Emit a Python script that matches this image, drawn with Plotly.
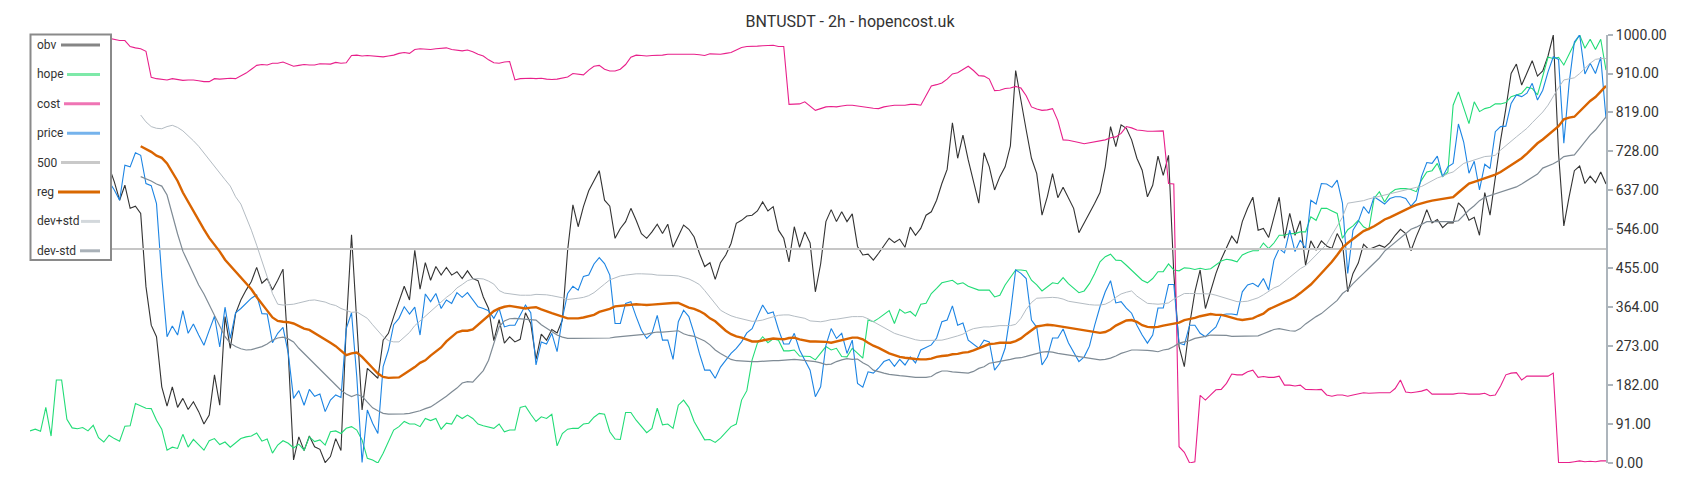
import plotly.graph_objects as go

# ---------------- data ----------------
title_text = "BNTUSDT - 2h - hopencost.uk"
x_index = list(range(300))

obv = [
720, 735, 700, 745, 715, 690, 730, 705, 680, 710,
690, 700, 675, 705, 680, 692, 657, 614, 649, 595,
600, 583, 412, 322, 295, 178, 133, 178, 130, 151,
125, 143, 120, 91, 112, 206, 135, 342, 268, 349,
381, 404, 424, 457, 420, 431, 404, 427, 453, 256,
7, 61, 29, 63, 38, 32, 1, 15, 57, 29,
318, 533, 318, 124, 221, 210, 198, 287, 303, 342,
377, 413, 381, 497, 406, 468, 427, 459, 439, 457,
439, 447, 431, 449, 431, 426, 388, 361, 286, 335,
280, 295, 283, 289, 351, 326, 242, 301, 287, 312,
304, 334, 497, 603, 552, 599, 636, 659, 683, 614,
600, 525, 548, 564, 595, 567, 536, 525, 540, 558,
536, 558, 504, 530, 556, 546, 528, 490, 459, 468,
429, 468, 486, 513, 560, 567, 577, 579, 589, 610,
589, 599, 544, 525, 470, 552, 504, 540, 514, 400,
465, 564, 592, 564, 587, 564, 582, 506, 486, 488,
474, 490, 509, 525, 515, 523, 504, 551, 532, 548,
579, 587, 614, 653, 686, 795, 712, 766, 708, 657,
607, 725, 692, 638, 669, 692, 741, 917, 844, 778,
712, 676, 579, 622, 676, 620, 644, 618, 595, 538,
560, 582, 607, 632, 692, 786, 739, 790, 782, 755,
712, 684, 622, 649, 717, 672, 719, 443, 272, 225,
323, 400, 451, 361, 404, 443, 476, 501, 530, 513,
564, 595, 621, 544, 548, 527, 572, 621, 525, 583,
532, 566, 462, 519, 497, 519, 507, 501, 536, 513,
400, 443, 467, 511, 499, 504, 509, 504, 515, 532,
546, 536, 496, 529, 558, 592, 561, 569, 550, 561,
561, 608, 595, 567, 574, 532, 632, 579, 669, 754,
828, 910, 932, 883, 911, 940, 904, 916, 951, 1000,
723, 554, 622, 683, 694, 653, 670, 655, 680, 652,
]

hope = [
75, 79, 74, 130, 63, 194, 194, 102, 82, 80,
83, 75, 88, 59, 49, 65, 57, 51, 86, 87,
139, 134, 128, 127, 100, 79, 30, 37, 34, 67,
37, 55, 43, 30, 52, 57, 43, 49, 37, 48,
57, 61, 63, 70, 51, 56, 23, 42, 52, 46,
35, 44, 30, 61, 50, 54, 42, 73, 75, 69,
81, 85, 77, 54, 11, 7, 0, 23, 50, 77,
85, 97, 91, 91, 85, 104, 99, 104, 79, 93,
91, 112, 104, 112, 104, 91, 87, 84, 81, 91,
73, 77, 77, 130, 133, 114, 97, 108, 104, 114,
40, 69, 79, 81, 81, 91, 93, 107, 116, 114,
73, 56, 55, 118, 118, 100, 85, 71, 81, 128,
89, 91, 81, 135, 147, 130, 97, 77, 54, 55,
48, 58, 71, 85, 91, 147, 169, 241, 280, 295,
281, 290, 287, 262, 262, 264, 250, 250, 249, 241,
256, 272, 264, 268, 249,
248, 268, 256, 245, 334, 330, 338, 348, 356, 326,
359, 350, 354, 343, 371, 373, 396, 408, 421, 424,
427, 418, 421, 413, 408, 404, 404, 404, 388, 392,
416, 435, 451, 451, 449, 427, 416, 402, 412, 421,
419, 433, 419, 408, 398, 402, 419, 443, 470, 482,
488, 474, 473, 462, 451, 439, 427, 421, 431, 447,
447, 465, 451, 449, 456, 455, 452, 455,
452, 454, 462, 472, 476, 474, 470, 486, 492, 496,
496, 514, 501, 514, 532, 532, 536, 536, 540, 540,
575, 567, 595, 595, 589, 583, 525, 545, 554, 567,
552, 545, 618, 634, 610, 630, 639, 641, 641, 639,
634, 661, 680, 683, 700, 669, 680, 836, 867, 832,
793, 844, 821, 828, 831, 839, 839, 842, 856, 860,
864, 878, 875, 860, 904, 948, 945, 948, 930, 956,
980, 1000, 969, 990, 966, 990, 918,
]

cost = [
1000, 998, 997, 999, 998, 996, 997, 995, 996, 994,
995, 993, 994, 992, 995, 992, 990, 987, 987, 973,
970, 968, 962, 901, 898, 896, 895, 898, 896, 894,
895, 895, 893, 891, 891, 898, 897, 898, 899, 898,
904, 911, 920, 929, 931, 930, 934, 934, 937, 932,
927, 929, 931, 930, 930, 933, 933, 932, 936, 934,
935, 952, 953, 951, 952, 951, 950, 949, 951, 953,
957, 959, 957, 966, 968, 967, 966, 968, 969, 970,
966, 964, 963, 965, 961, 955, 951, 942, 935, 934,
937, 938, 895, 898, 899, 899, 898, 899, 897, 896,
897, 899, 902, 910, 909, 907, 918, 927, 929, 920,
916, 916, 920, 931, 948, 953, 952, 951, 952, 952,
953, 955, 955, 955, 955, 956, 955, 954, 952, 956,
956, 955, 957, 959, 965, 971, 973, 973, 974, 975,
976, 976, 973, 973, 838, 838, 839, 844, 833, 824,
828, 832, 833, 832, 834, 836, 836, 834, 833, 831,
829, 828, 832, 834, 836, 836, 836, 838, 838, 836,
858, 881, 884, 888, 897, 909, 912, 920, 927, 917,
905, 904, 897, 870, 871, 875, 876, 880, 876, 858,
832, 827, 824, 825, 828, 800, 755, 754, 752, 749,
746, 748, 750, 752, 755, 760, 762, 770, 786, 783,
778, 777, 775, 775, 776, 776, 653, 652, 38, 25,
0, 3, 158, 147, 159, 171, 172, 186, 208, 206,
206, 213, 217, 200, 202, 200, 200, 203, 182, 182,
180, 182, 172, 171, 171, 172, 159, 156, 159, 159,
156, 159, 161, 164, 163, 164, 164, 164, 164, 174,
194, 166, 164, 166, 168, 172, 161, 161, 161, 161,
161, 163, 163, 161, 161, 161, 163, 157, 159, 180,
206, 210, 211, 194, 203, 203, 203, 203, 203, 210,
1, 1, 1, 3, 5, 3, 4, 3, 5, 5,
]

price = [
690, 700, 680, 710, 690, 675, 700, 685, 660, 680,
670, 690, 665, 650, 660, 657, 638, 614, 696, 692,
725, 719, 653, 648, 606, 435, 295, 320, 299, 356,
303, 325, 299, 275, 310, 343, 271, 364, 291, 351,
361, 373, 385, 393, 349, 348, 281, 303, 317, 256,
151, 169, 135, 172, 156, 161, 120, 147, 159, 153,
314, 351, 201, 1, 124, 93, 69, 225, 264, 323,
338, 365, 348, 364, 299, 395, 377, 396, 361, 381,
373, 398, 387, 398, 381, 365, 361, 356, 338, 361,
318, 322, 322, 345, 369, 351, 229, 283, 278, 303,
260, 338, 396, 413, 404, 436, 439, 465, 480, 466,
439, 326, 326, 373, 377, 342, 310, 291, 303, 345,
287, 287, 242, 330, 357, 342, 303, 256, 217, 217,
198, 224, 241, 256, 268, 283, 304, 314, 342, 369,
349, 353, 312, 278, 278, 303, 264, 241, 217, 155,
178, 275, 314, 291, 303, 256,
287, 186, 177, 213,
210, 222, 237, 242, 226, 242, 229, 248, 234, 264,
270, 276, 292, 330, 334, 367, 322, 327, 287, 278,
268, 287, 283, 217, 233, 268, 350, 451, 443, 431,
334, 317, 229, 248, 292, 292, 313, 281, 260, 237,
248, 273, 322, 365, 400, 426, 374, 377, 362, 350,
322, 299, 280, 299, 362, 362, 417, 417, 280, 276,
322, 322,
303, 295, 307, 318, 346, 348, 348, 346, 400, 416,
420, 412, 431, 404, 474, 501, 491, 544, 494, 521,
501, 614, 605, 653, 652, 644, 661, 607, 443, 544,
564, 599, 583, 622, 614, 605, 618, 622, 622, 618,
600, 614, 669, 702, 700, 717, 669, 692, 700, 792,
750, 677, 705, 638, 698, 688, 774, 786, 787, 840,
860, 856, 864, 887, 848, 871, 914, 949, 943, 747,
887, 984, 1000, 909, 934, 910, 948, 805,
]

level_500 = [500] * 300

reg = [None] * 21 + [
740, 734, 727, 718, 713, 700, 679, 659, 632,
610, 587, 566, 546, 526, 510, 494, 475, 461, 447,
434, 420, 406, 388, 373, 356, 340, 332, 330, 329,
326, 320, 314, 311, 304, 297, 289, 281, 273, 262,
252, 256, 258, 248, 234, 222, 209, 201, 199, 199,
200, 208, 215, 224, 234, 240, 251, 260, 270, 284,
294, 305, 309, 309, 312, 323, 333, 344, 355, 361,
365, 367, 365, 363, 361, 363, 364, 359, 354, 350,
346, 342, 338, 338, 338, 340, 343, 346, 353, 357,
360, 366, 367, 369, 370, 371, 370, 369, 370, 371,
373, 374, 374, 374, 368, 363, 360, 355, 348, 338,
331, 319, 309, 301, 296, 293, 288, 284, 284, 286,
289, 291, 290, 289, 292, 293, 289, 287, 284, 284,
284, 283, 281, 284, 288, 290,
293, 293, 289, 281, 274, 269, 262, 256, 252, 248,
246, 244, 243, 242, 242, 244, 248, 250, 251, 254,
255, 258, 259, 263, 268, 273, 278, 279, 281, 281,
281, 285, 291, 301, 311, 319, 321, 323, 322, 320,
318, 316, 314, 311, 310, 308, 306, 304, 306, 312,
321, 328, 333, 334, 330, 322, 318, 317, 318, 321,
323, 325, 328, 334, 336, 339,
343, 346, 348, 346, 346, 343, 339, 336, 334, 336,
338, 344, 349, 359, 365, 371, 376, 381, 388, 397,
407, 417, 430, 443, 457, 470, 486, 503, 514, 524,
532, 542, 547, 553, 561, 569, 574, 580, 587, 592,
598, 603, 607, 610, 613, 615, 617, 618, 621, 632,
643, 653, 657, 661, 666, 669, 674, 680, 688, 696,
703, 712, 723, 736, 747, 756, 766, 777, 787, 803,
807, 809, 821, 835, 846, 855, 867, 881,
]

dev_plus_std = [None] * 21 + [
813, 797, 786, 782, 781, 786, 789, 784, 776,
765, 753, 740, 724, 709, 694, 678, 662, 647, 622,
605, 575, 544, 509, 474, 435, 396, 371, 369, 370,
371, 374, 377, 380, 381, 379, 376, 371, 368, 361,
356, 352, 353, 346, 338, 323, 309, 295, 286, 283,
283, 295, 305, 321, 332, 343, 355, 365, 375, 387,
396, 409, 417, 426, 430, 431, 430, 425, 418, 403,
397, 395, 393, 392, 392, 392, 394, 394, 393, 391,
389, 386, 382, 383, 385, 387, 391, 398, 407, 418,
428, 433, 437, 439, 441, 442, 442, 442, 441, 439,
439, 439, 438, 437, 434, 430, 424, 417, 403, 388,
373, 357, 350, 344, 340, 337, 333, 331, 332, 334,
338, 342, 345, 346, 346, 343, 341, 338, 332, 331,
330, 332, 335, 336, 338, 339,
342, 342, 342, 337, 330, 324, 317, 308, 303, 299,
295, 291, 288, 286, 286, 286, 286, 287, 290, 293,
297, 301, 309, 314, 316, 318, 318, 320, 321, 321,
321, 324, 338, 359, 375, 385, 386, 387, 387, 386,
383, 378, 376, 373, 371, 370, 369, 369, 371, 377,
387, 395, 399, 402, 390, 381, 373, 372, 371, 372,
374, 383, 390, 396, 396, 396,
396, 395, 395, 392, 388, 384, 380, 377, 377, 378,
382, 386, 393, 402, 409, 414, 423, 434, 444, 454,
461, 473, 485, 497, 511, 533, 554, 574, 607, 609,
611, 613, 617, 620, 624, 627, 630, 632, 636, 638,
641, 644, 646, 653, 660, 666, 670, 676, 680, 691,
700, 704, 708, 713, 716, 717, 719, 731, 742, 751,
762, 772, 782, 795, 807, 820, 836, 857, 877, 895,
897, 900, 910, 922, 934, 943, 945, 945,
]

dev_minus_std = [None] * 21 + [
669, 664, 659, 652, 647, 626, 579, 535, 495,
469, 439, 416, 395, 370, 346, 321, 295, 280, 272,
267, 264, 265, 268, 272, 278, 287, 292, 294, 290,
283, 268, 256, 243, 231, 219, 206, 195, 182, 170,
161, 155, 160, 156, 142, 129, 122, 116, 114, 114,
114, 115, 116, 119, 122, 127, 131, 139, 147, 156,
166, 175, 187, 190, 189, 203, 216, 240, 279, 318,
332, 337, 338, 337, 336, 335, 334, 323, 315, 307,
299, 294, 291, 291, 291, 291, 291, 291, 291, 291,
292, 294, 295, 297, 298, 299, 300, 301, 304, 306,
306, 307, 309, 309, 302, 298, 296, 290, 285, 276,
264, 256, 248, 242, 239, 238, 237, 237, 237, 238,
239, 239, 239, 240, 241, 242, 241, 240, 238, 237,
234, 230, 231, 237, 241, 244,
242, 243, 234, 228, 217, 213, 210, 207, 205, 204,
203, 201, 200, 200, 200, 202, 210, 215, 215, 213,
212, 210, 210, 214, 221, 225, 233, 235, 237, 240,
242, 245, 246, 249, 252, 256, 259, 260, 259, 256,
254, 253, 251, 249, 246, 245, 243, 241, 242, 245,
250, 256, 260, 264, 264, 264, 263, 262, 260, 264,
266, 272, 280, 283, 286, 291,
293, 296, 299, 299, 299, 298, 296, 296, 296, 296,
296, 297, 302, 307, 312, 314, 311, 309, 308, 314,
325, 334, 342, 349, 360, 370, 380, 396, 405, 419,
430, 443, 455, 467, 479, 495, 505, 515, 526, 536,
546, 551, 558, 564, 564, 564, 564, 564, 564, 566,
579, 591, 601, 613, 621, 625, 628, 633, 637, 641,
645, 652, 660, 668, 675, 689, 694, 699, 706, 716,
718, 720, 735, 751, 766, 778, 794, 809,
]

y_tick_values = [0, 91, 182, 273, 364, 455, 546, 637, 728, 819, 910, 1000]
y_tick_labels = ["0.00", "91.00", "182.00", "273.00", "364.00", "455.00",
                 "546.00", "637.00", "728.00", "819.00", "910.00", "1000.00"]

series = [
    ("obv", obv),
    ("hope", hope),
    ("cost", cost),
    ("price", price),
    ("500", level_500),
    ("reg", reg),
    ("dev+std", dev_plus_std),
    ("dev-std", dev_minus_std),
]

# ---------------- styles ----------------
line_styles = {
    "obv": dict(color="#333333", width=1.1),
    "hope": dict(color="#22dc77", width=1.1),
    "cost": dict(color="#e8208b", width=1.1),
    "price": dict(color="#1c84e3", width=1.1),
    "500": dict(color="#c6c6c6", width=1.8),
    "reg": dict(color="#d96400", width=2.4),
    "dev+std": dict(color="#b4bcc3", width=1.0),
    "dev-std": dict(color="#7f8b95", width=1.2),
}
legend_styles = {
    "obv": ("#858585", 61),
    "hope": ("#7ee9a9", 67),
    "cost": ("#ef74b4", 64),
    "price": ("#75b3ec", 67),
    "500": ("#c9c9c9", 61),
    "reg": ("#d96800", 58),
    "dev+std": ("#d3d8dc", 81),
    "dev-std": ("#a9b1b8", 80),
}

# plot area in pixels
PL, PR, PT, PB = 30, 1606, 35, 463
W, H = 1700, 500


def px_x(p):
    return (p - PL) / (PR - PL)


def px_y(p):
    return (PB - p) / (PB - PT)


fig = go.Figure()
for name, values in series:
    fig.add_trace(go.Scatter(
        x=x_index, y=values, mode="lines", name=name,
        line=line_styles[name], hoverinfo="x+y+name",
    ))

shapes = []
annotations = []
# legend box
shapes.append(dict(type="rect", xref="paper", yref="paper",
                   x0=px_x(30.5), x1=px_x(111), y0=px_y(260), y1=px_y(34.5),
                   fillcolor="white", line=dict(color="#8a8a8a", width=2),
                   layer="above"))
for k, (name, _) in enumerate(series):
    yc = 45 + 29.4 * k
    col, x_start = legend_styles[name]
    shapes.append(dict(type="line", xref="paper", yref="paper",
                       x0=px_x(x_start), x1=px_x(100), y0=px_y(yc), y1=px_y(yc),
                       line=dict(color=col, width=3), layer="above"))
    annotations.append(dict(x=px_x(35), y=px_y(yc), xref="paper", yref="paper",
                            text=name, showarrow=False, xanchor="left",
                            yanchor="middle",
                            font=dict(family="Roboto", size=12, color="#333333")))

fig.update_layout(
    width=W, height=H,
    margin=dict(l=PL, r=W - PR, t=PT, b=H - PB),
    paper_bgcolor="white", plot_bgcolor="white",
    showlegend=False,
    font=dict(family="Roboto", color="#333333"),
    title=dict(text=title_text, x=0.5, xanchor="center",
               y=1 - 21 / H, yanchor="middle", yref="container",
               font=dict(family="Roboto", size=16, color="#333333")),
    xaxis=dict(visible=False, range=[0, 299]),
    yaxis=dict(range=[0, 1000], side="right", showgrid=False, zeroline=False,
               showline=True, linecolor="#adb5bc", linewidth=2,
               ticks="outside", ticklen=5, tickwidth=1.5, tickcolor="#adb5bc",
               tickvals=y_tick_values, ticktext=y_tick_labels,
               tickfont=dict(family="Roboto", size=14, color="#333333")),
    shapes=shapes,
    annotations=annotations,
)

fig.write_html("out.html", config={"displayModeBar": False},
               post_script="document.body.style.margin='0';")
